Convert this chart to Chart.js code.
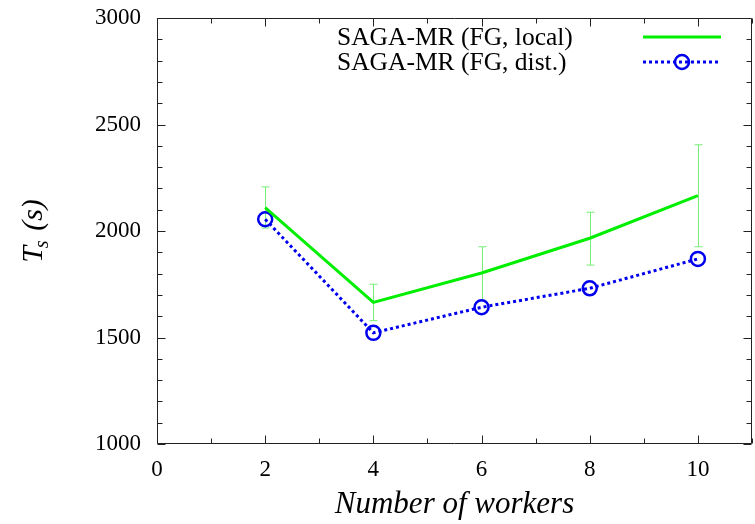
<!DOCTYPE html>
<html>
<head>
<meta charset="utf-8">
<script src="https://cdn.jsdelivr.net/npm/chart.js@4"></script>
<style>
html,body{margin:0;padding:0;background:#fff;}
#wrap{width:755px;height:524px;position:relative;}
</style>
</head>
<body>
<div id="wrap"><canvas id="c" width="755" height="524"></canvas></div>
<script>
// ---- data ----
const workers = [2, 4, 6, 8, 10];
const localMean = [2110, 1665, 1803, 1966, 2166];
const localErrLow = [2014, 1579, 1673, 1840, 1926];
const localErrHigh = [2207, 1750, 1926, 2088, 2405];
const distMean = [2055, 1522, 1642, 1731, 1869];
const seriesLabels = ['SAGA-MR (FG, local)', 'SAGA-MR (FG, dist.)'];
const xTicks = [0, 2, 4, 6, 8, 10];
const yTicks = [1000, 1500, 2000, 2500, 3000];
const xTitle = 'Number of workers';

const SERIF = '"Liberation Serif", "Times New Roman", serif';
const GREEN = '#00ee00';
const ERR_GREEN = '#77ee77';
const BLUE = '#0000ee';

const toPts = (xs, ys) => xs.map((x, i) => ({x: x, y: ys[i]}));
const noPad = s => { s.paddingTop = 0; s.paddingBottom = 0; s.paddingLeft = 0; s.paddingRight = 0; };

const framePlugin = {
  id: 'frame',
  beforeDatasetsDraw(chart) {
    const ctx = chart.ctx, xs = chart.scales.x, ys = chart.scales.y;
    ctx.save();
    ctx.strokeStyle = ERR_GREEN;
    ctx.lineWidth = 1;
    workers.forEach((w, i) => {
      const px = Math.round(xs.getPixelForValue(w)) + 0.5;
      const pt = ys.getPixelForValue(localErrHigh[i]);
      const pb = ys.getPixelForValue(localErrLow[i]);
      ctx.beginPath();
      ctx.moveTo(px, pt); ctx.lineTo(px, pb);
      ctx.moveTo(px - 4, pt); ctx.lineTo(px + 4, pt);
      ctx.moveTo(px - 4, pb); ctx.lineTo(px + 4, pb);
      ctx.stroke();
    });
    ctx.restore();
  },
  afterDraw(chart) {
    const ctx = chart.ctx, a = chart.chartArea, xs = chart.scales.x, ys = chart.scales.y;
    ctx.save();
    ctx.strokeStyle = '#222';
    ctx.lineWidth = 1;
    const L = Math.round(a.left) + 0.5, R = Math.round(a.right) - 0.5;
    const T = Math.round(a.top) + 0.5, B = Math.round(a.bottom) - 0.5;
    ctx.beginPath();
    ctx.rect(L, T, R - L, B - T);
    ctx.stroke();
    ctx.beginPath();
    for (let v = ys.min; v <= ys.max; v += 100) {
      const py = Math.round(ys.getPixelForValue(v)) + 0.5;
      const len = (v % 500 === 0) ? 8 : 5;
      ctx.moveTo(L, py); ctx.lineTo(L + len, py);
      ctx.moveTo(R, py); ctx.lineTo(R - len, py);
    }
    for (let v = xs.min; v <= xs.max; v += 1) {
      const px = Math.round(xs.getPixelForValue(v)) + 0.5;
      const len = (v % 2 === 0) ? 8 : 5;
      ctx.moveTo(px, B); ctx.lineTo(px, B - len);
      ctx.moveTo(px, T); ctx.lineTo(px, T + len);
    }
    ctx.stroke();

    // y axis title  T_s (s)
    ctx.save();
    ctx.translate(42, 231);
    ctx.rotate(-Math.PI / 2);
    ctx.fillStyle = '#000';
    ctx.textBaseline = 'alphabetic';
    ctx.font = 'italic 30px ' + SERIF;
    const w1 = ctx.measureText('T').width;
    ctx.font = 'italic 20px ' + SERIF;
    const w2 = ctx.measureText('s').width;
    ctx.font = 'italic 30px ' + SERIF;
    const w3 = ctx.measureText(' (s)').width;
    let x0 = -(w1 + w2 + w3) / 2;
    ctx.fillText('T', x0, 0);
    ctx.font = 'italic 20px ' + SERIF;
    ctx.fillText('s', x0 + w1 - 2, 6);
    ctx.font = 'italic 30px ' + SERIF;
    ctx.fillText(' (s)', x0 + w1 + w2, 0);
    ctx.restore();

    // legend
    ctx.fillStyle = '#000';
    ctx.font = '25.5px ' + SERIF;
    ctx.textAlign = 'left';
    ctx.textBaseline = 'middle';
    const rows = [37, 62];
    chart.data.datasets.forEach((ds, i) => {
      ctx.fillText(ds.label, 337, rows[i] + 1);
      ctx.save();
      ctx.strokeStyle = ds.borderColor;
      ctx.lineWidth = ds.borderWidth;
      ctx.setLineDash(ds.borderDash || []);
      ctx.beginPath();
      ctx.moveTo(643, rows[i]); ctx.lineTo(721, rows[i]);
      ctx.stroke();
      if (ds.pointRadius > 0) {
        ctx.setLineDash([]);
        ctx.lineWidth = ds.pointBorderWidth;
        ctx.strokeStyle = ds.pointBorderColor;
        ctx.beginPath();
        ctx.arc(682, rows[i], ds.pointRadius, 0, Math.PI * 2);
        ctx.stroke();
      }
      ctx.restore();
    });
    ctx.restore();
  }
};

new Chart(document.getElementById('c'), {
  type: 'line',
  data: {
    datasets: [
      {
        label: seriesLabels[0],
        data: toPts(workers, localMean),
        borderColor: GREEN,
        borderWidth: 3,
        pointRadius: 0,
        fill: false,
        tension: 0
      },
      {
        label: seriesLabels[1],
        data: toPts(workers, distMean),
        borderColor: BLUE,
        borderWidth: 3,
        borderDash: [3, 3],
        pointRadius: 7,
        pointBorderWidth: 2.5,
        pointBorderColor: BLUE,
        pointBackgroundColor: 'rgba(0,0,0,0)',
        fill: false,
        tension: 0
      }
    ]
  },
  options: {
    responsive: false,
    animation: false,
    layout: {autoPadding: false, padding: {top: 18, right: 3, left: 0, bottom: 0}},
    plugins: {legend: {display: false}, tooltip: {enabled: false}},
    scales: {
      x: {
        type: 'linear',
        min: 0, max: 11,
        afterFit(s) { s.height = 80; noPad(s); },
        afterBuildTicks(s) { s.ticks = xTicks.map(v => ({value: v})); },
        grid: {display: false, drawTicks: false},
        border: {display: false},
        ticks: {
          color: '#000',
          font: {family: SERIF, size: 23},
          padding: 12,
          maxRotation: 0,
          autoSkip: false,
          callback: v => String(v)
        },
        title: {
          display: true,
          text: xTitle,
          color: '#000',
          font: {family: SERIF, size: 31, style: 'italic'},
          padding: {top: 0, bottom: 1}
        }
      },
      y: {
        type: 'linear',
        min: 1000, max: 3000,
        afterFit(s) { s.width = 157; noPad(s); },
        afterBuildTicks(s) { s.ticks = yTicks.map(v => ({value: v})); },
        grid: {display: false, drawTicks: false},
        border: {display: false},
        ticks: {
          color: '#000',
          font: {family: SERIF, size: 23},
          padding: 16,
          callback: v => String(v)
        },
        title: {display: false}
      }
    }
  },
  plugins: [framePlugin]
});
</script>
</body>
</html>
